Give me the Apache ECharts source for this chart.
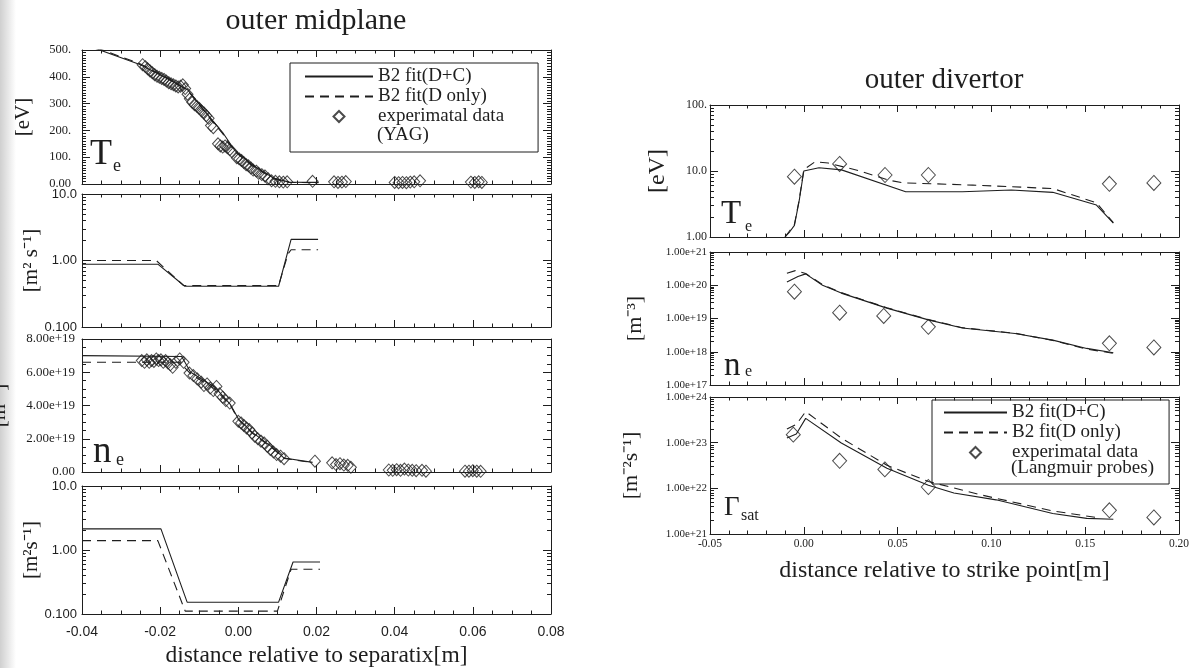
<!DOCTYPE html>
<html>
<head>
<meta charset="utf-8">
<title>outer midplane / outer divertor profiles</title>
<script src="https://cdn.jsdelivr.net/npm/echarts@6/dist/echarts.min.js"></script>
<style>
  html, body { margin: 0; padding: 0; background: #ffffff; }
  #chart { width: 1192px; height: 668px; }
</style>
</head>
<body>
<div id="chart"></div>
<script>
// ------------------------------------------------------------------
// Data: outer midplane profiles (x = distance relative to separatrix [m])
// ------------------------------------------------------------------
const midTeFitDC = [[-0.04, 524], [-0.0252, 446], [-0.018, 392], [-0.013, 352], [-0.008, 262], [-0.004, 192], [-0.001, 127], [0.0035, 72], [0.009, 22], [0.013, 7], [0.0205, 6]];
const midTeFitD  = [[-0.04, 528], [-0.0252, 449], [-0.018, 394], [-0.013, 350], [-0.008, 258], [-0.004, 188], [-0.001, 122], [0.0035, 68], [0.009, 19], [0.013, 6], [0.0205, 5]];
const midTeYAG = [
  [-0.0245, 445], [-0.0238, 438], [-0.0232, 430], [-0.0226, 422], [-0.0220, 415], [-0.0214, 408], [-0.0208, 402],
  [-0.0202, 398], [-0.0196, 394], [-0.0190, 390], [-0.0184, 384], [-0.0178, 378], [-0.0172, 374], [-0.0166, 370],
  [-0.0160, 366], [-0.0154, 362], [-0.0148, 365], [-0.0142, 370], [-0.0136, 356], [-0.0130, 335], [-0.0124, 318],
  [-0.0118, 305], [-0.0112, 296], [-0.0106, 290], [-0.0100, 282], [-0.0094, 272], [-0.0088, 265], [-0.0082, 255],
  [-0.0076, 245], [-0.0070, 218], [-0.0064, 210], [-0.0052, 150], [-0.0046, 142], [-0.0040, 138], [-0.0034, 142],
  [-0.0028, 135], [-0.0022, 128], [-0.0016, 120], [-0.0004, 98], [0.0002, 94], [0.0008, 88], [0.0014, 80],
  [0.0020, 72], [0.0026, 68], [0.0032, 60], [0.0038, 52], [0.0046, 48], [0.0052, 40], [0.0060, 35], [0.0068, 30],
  [0.0076, 20], [0.0085, 12], [0.0095, 10], [0.0105, 8], [0.0115, 7], [0.0125, 8],
  [0.0190, 10], [0.0245, 8], [0.0255, 6], [0.0265, 7], [0.0275, 9],
  [0.0400, 6], [0.0410, 5], [0.0420, 6], [0.0430, 5], [0.0440, 7], [0.0450, 8], [0.0465, 12],
  [0.0595, 7], [0.0605, 6], [0.0615, 8], [0.0623, 6]
];

const midChiFitDC = [[-0.04, 0.88], [-0.0206, 0.88], [-0.0137, 0.41], [0.0103, 0.41], [0.0135, 2.08], [0.0204, 2.08]];
const midChiFitD  = [[-0.04, 1.0], [-0.021, 1.0], [-0.0140, 0.42], [0.0103, 0.42], [0.0127, 1.25], [0.0135, 1.45], [0.0204, 1.45]];

const midNeFitDC = [[-0.04, 7.0e19], [-0.0145, 6.95e19], [-0.0122, 6.0e19], [-0.006, 5.1e19], [-0.002, 4.05e19], [0.0, 3.2e19], [0.0035, 2.4e19], [0.0089, 1.45e19], [0.0117, 0.84e19], [0.019, 0.58e19]];
const midNeFitD  = [[-0.04, 6.6e19], [-0.015, 6.6e19], [-0.0122, 5.9e19], [-0.006, 5.0e19], [-0.002, 4.0e19], [0.0, 3.15e19], [0.0035, 2.35e19], [0.0089, 1.4e19], [0.0117, 0.82e19], [0.019, 0.56e19]];
const midNeYAG = [
  [-0.0247, 6.7e19], [-0.0240, 6.6e19], [-0.0234, 6.75e19], [-0.0228, 6.6e19], [-0.0222, 6.7e19], [-0.0216, 6.65e19],
  [-0.0210, 6.8e19], [-0.0204, 6.7e19], [-0.0198, 6.75e19], [-0.0192, 6.6e19], [-0.0186, 6.7e19], [-0.0180, 6.55e19],
  [-0.0174, 6.45e19], [-0.0168, 6.3e19], [-0.0160, 6.6e19], [-0.0150, 6.8e19], [-0.0140, 6.6e19], [-0.0125, 5.95e19],
  [-0.0115, 5.8e19], [-0.0105, 5.6e19], [-0.0095, 5.4e19], [-0.0088, 5.2e19], [-0.0080, 5.3e19], [-0.0072, 5.05e19],
  [-0.0064, 4.9e19], [-0.0056, 5.15e19], [-0.0048, 4.7e19], [-0.0040, 4.5e19], [-0.0032, 4.3e19], [-0.0022, 4.15e19],
  [0.0000, 3.05e19], [0.0007, 2.95e19], [0.0014, 2.8e19], [0.0021, 2.65e19], [0.0028, 2.55e19], [0.0035, 2.35e19],
  [0.0042, 2.15e19], [0.0050, 2.0e19], [0.0058, 1.85e19], [0.0066, 1.75e19], [0.0074, 1.55e19], [0.0082, 1.35e19],
  [0.0090, 1.2e19], [0.0098, 1.05e19], [0.0108, 0.95e19], [0.0117, 0.8e19],
  [0.0196, 0.65e19], [0.0240, 0.55e19], [0.0250, 0.45e19], [0.0260, 0.5e19], [0.0270, 0.42e19], [0.0280, 0.4e19], [0.0288, 0.28e19],
  [0.0385, 0.12e19], [0.0395, 0.1e19], [0.0405, 0.14e19], [0.0415, 0.1e19], [0.0425, 0.18e19], [0.0435, 0.12e19],
  [0.0445, 0.1e19], [0.0455, 0.08e19], [0.0470, 0.1e19], [0.0480, 0.05e19],
  [0.0580, 0.05e19], [0.0590, 0.05e19], [0.0600, 0.08e19], [0.0610, 0.05e19], [0.0620, 0.04e19]
];

const midDFitDC = [[-0.04, 2.14], [-0.0198, 2.14], [-0.0131, 0.153], [0.0103, 0.153], [0.0140, 0.65], [0.0209, 0.65]];
const midDFitD  = [[-0.04, 1.40], [-0.0206, 1.40], [-0.0136, 0.111], [0.0100, 0.111], [0.0135, 0.50], [0.0209, 0.50]];

// ------------------------------------------------------------------
// Data: outer divertor profiles (x = distance relative to strike point [m])
// ------------------------------------------------------------------
const divTeFitDC = [[-0.010, 1.0], [-0.0075, 1.2], [-0.005, 1.5], [-0.0025, 3.5], [0.0, 10.0], [0.0081, 11.2], [0.0201, 10.4], [0.0543, 4.85], [0.0845, 4.85], [0.1106, 5.15], [0.1327, 4.75], [0.156, 3.05], [0.165, 1.62]];
const divTeFitD  = [[-0.010, 1.0], [-0.005, 1.55], [-0.0025, 3.6], [0.0, 10.5], [0.006, 13.8], [0.013, 13.2], [0.030, 10.0], [0.045, 7.3], [0.053, 6.6], [0.070, 6.4], [0.090, 6.1], [0.110, 5.8], [0.133, 5.4], [0.156, 3.3], [0.165, 1.65]];
const divTeProbe = [[-0.005, 8.2], [0.0191, 12.8], [0.0433, 8.7], [0.0664, 8.7], [0.1629, 6.4], [0.1866, 6.6]];

const divNeFitDC = [[-0.009, 1.26e20], [-0.0031, 1.82e20], [0.001, 2.2e20], [0.010, 1.0e20], [0.020, 5.8e19], [0.0443, 2.05e19], [0.0664, 9.1e18], [0.0845, 5.2e18], [0.1126, 3.55e18], [0.1327, 2.24e18], [0.1508, 1.26e18], [0.165, 9.3e17]];
const divNeFitD  = [[-0.009, 2.3e20], [-0.0045, 2.75e20], [0.001, 2.25e20], [0.010, 1.05e20], [0.020, 6.0e19], [0.0443, 2.1e19], [0.0664, 9.3e18], [0.0845, 5.3e18], [0.1126, 3.6e18], [0.1327, 2.2e18], [0.1508, 1.2e18], [0.165, 9.0e17]];
const divNeProbe = [[-0.005, 6.4e19], [0.0191, 1.5e19], [0.0426, 1.19e19], [0.0664, 5.6e18], [0.1629, 1.8e18], [0.1866, 1.35e18]];

const divGammaFitDC = [[-0.009, 1.26e23], [-0.004, 1.55e23], [0.001, 3.4e23], [0.020, 9.8e22], [0.0443, 2.75e22], [0.0664, 1.17e22], [0.080, 7.9e21], [0.1025, 5.6e21], [0.1327, 2.8e21], [0.1508, 2.2e21], [0.165, 2.1e21]];
const divGammaFitD  = [[-0.009, 2.0e23], [-0.004, 2.5e23], [0.001, 4.8e23], [0.020, 1.26e23], [0.0443, 3.2e22], [0.0664, 1.41e22], [0.095, 7.1e21], [0.1327, 3.2e21], [0.156, 2.3e21]];
const divGammaProbe = [[-0.0056, 1.5e23], [0.0191, 4.0e22], [0.0432, 2.6e22], [0.0664, 1.07e22], [0.1629, 3.3e21], [0.1866, 2.3e21]];

// axis ranges and legend names
const midXRange = { min: -0.04, max: 0.08, step: 0.02 };
const divXRange = { min: -0.05, max: 0.20, step: 0.05 };
const seriesNames = ['B2 fit(D+C)', 'B2 fit(D only)', 'experimatal data'];
const legendExtra = ['(YAG)', '(Langmuir probes)'];

// ------------------------------------------------------------------
// Styling helpers
// ------------------------------------------------------------------
const SERIF = '"Liberation Serif", "Times New Roman", serif';
const SANS = '"Liberation Sans", Arial, sans-serif';
const INK = '#1e1e1e';
const DIAMOND_PATH = 'path://M5,0L10,5L5,10L0,5Z';

// IDL-like label with three significant digits: 0.100, 1.00, 10.0, 100.
function fmtSig3(v) {
  if (Math.abs(v) < 1e-12) return '0.00';
  const e = Math.floor(Math.log10(Math.abs(v)) + 1e-9);
  if (e >= 2) return Math.round(v) + '.';
  return v.toFixed(Math.max(0, 2 - e));
}
// IDL-like exponential label: 2.00e+19
function fmtSci(v) {
  if (Math.abs(v) < 1e-30) return '0.00';
  const e = Math.floor(Math.log10(Math.abs(v)) + 1e-9);
  const m = v / Math.pow(10, e);
  return m.toFixed(2) + 'e+' + (e < 10 ? '0' : '') + e;
}
// minor tick positions 2..9 x 10^k inside a log range
function logMinor(lo, hi) {
  const out = [];
  for (let k = Math.floor(Math.log10(lo)); k < Math.ceil(Math.log10(hi)); k++) {
    for (let m = 2; m <= 9; m++) {
      const v = m * Math.pow(10, k);
      if (v > lo && v < hi) out.push(v);
    }
  }
  return out;
}

const grids = [], xAxes = [], yAxes = [], series = [];

function axisLine(show) { return { show: show !== false, onZero: false, lineStyle: { color: INK, width: 1 } }; }

// one framed panel: bottom/top x axes, left/right y axes (ticks drawn inward on all four sides)
function addPanel(p) {
  const gi = grids.length;
  grids.push({ left: p.left, top: p.top, width: p.width, height: p.height, show: false, outerBoundsMode: 'none' });

  const xr = p.x;
  const xBase = {
    gridIndex: gi, type: 'value', min: xr.min, max: xr.max, interval: xr.step,
    axisLine: axisLine(),
    axisTick: { show: true, inside: true, length: 7, lineStyle: { color: INK } },
    minorTick: { show: true, splitNumber: xr.minor, length: 3.5, lineStyle: { color: INK } },
    splitLine: { show: false }, minorSplitLine: { show: false },
    axisLabel: { show: false }
  };
  const xi = xAxes.length;
  const xBottom = Object.assign({}, xBase, { position: 'bottom' });
  if (p.xLabels) {
    xBottom.axisLabel = Object.assign({ show: true, showMinLabel: true, showMaxLabel: true, color: INK,
      formatter: v => v.toFixed(2) }, p.xLabels);
    xBottom.name = p.xName;
    xBottom.nameLocation = 'middle';
    xBottom.nameGap = p.xNameGap;
    xBottom.nameMoveOverlap = false;
    xBottom.nameTextStyle = { fontFamily: SERIF, fontSize: p.xNameSize, color: INK };
  }
  xAxes.push(xBottom);
  xAxes.push(Object.assign({}, xBase, { position: 'top' }));

  const yr = p.y;
  const yBase = {
    gridIndex: gi, type: yr.type, min: yr.min, max: yr.max,
    axisLine: axisLine(),
    axisTick: { show: true, inside: true, length: 8, lineStyle: { color: INK } },
    splitLine: { show: false }, minorSplitLine: { show: false },
    axisLabel: { show: false }
  };
  if (yr.type === 'log') yBase.logBase = 10;
  if (yr.interval) yBase.interval = yr.interval;
  if (yr.type === 'value') yBase.minorTick = { show: true, splitNumber: yr.minor, length: 4, lineStyle: { color: INK } };

  const yi = yAxes.length;
  const yLeft = Object.assign({}, yBase, {
    position: 'left',
    axisLabel: Object.assign({ show: true, showMinLabel: true, showMaxLabel: true, color: INK, formatter: yr.fmt }, p.yLabels),
    name: p.yName, nameLocation: 'middle', nameGap: p.yNameGap, nameRotate: 90, nameMoveOverlap: false,
    nameTextStyle: { fontFamily: SERIF, fontSize: p.yNameSize || 21, color: INK }
  });
  yAxes.push(yLeft);
  yAxes.push(Object.assign({}, yBase, { position: 'right' }));
  if (yr.type === 'log') {
    // short minor ticks at 2..9 of every decade, on both frame sides
    const minorVals = logMinor(yr.min, yr.max);
    ['left', 'right'].forEach(pos => {
      yAxes.push(Object.assign({}, yBase, {
        position: pos, axisLine: axisLine(false),
        axisTick: { show: true, inside: true, length: 4, customValues: minorVals, lineStyle: { color: INK } },
        axisLabel: { show: false }
      }));
    });
  }
  return { xi, yi };
}

function addFit(ax, name, data, dashed) {
  series.push({
    type: 'line', name, data, xAxisIndex: ax.xi, yAxisIndex: ax.yi,
    symbol: 'none', showSymbol: false, clip: true, silent: true,
    itemStyle: { color: INK },
    lineStyle: { color: INK, width: 1.1, type: dashed ? [9, 6] : 'solid' },
    emphasis: { disabled: true }
  });
}
function addProbe(ax, name, data, size) {
  series.push({
    type: 'scatter', name, data, xAxisIndex: ax.xi, yAxisIndex: ax.yi,
    symbol: 'diamond', symbolSize: size, clip: true, silent: true,
    itemStyle: { color: 'rgba(255,255,255,0)', borderColor: INK, borderWidth: 1 },
    emphasis: { disabled: true }
  });
}

// ------------------------------------------------------------------
// Left column: outer midplane
// ------------------------------------------------------------------
const MID = { left: 82, width: 469 };
const midX = Object.assign({ minor: 4 }, midXRange);

const mTe = addPanel({ left: MID.left, width: MID.width, top: 50, height: 134, x: midX,
  y: { type: 'value', min: 0, max: 500, interval: 100, minor: 10, fmt: fmtSig3 },
  yLabels: { fontFamily: SERIF, fontSize: 12.5, margin: 11 }, yName: '[eV]', yNameGap: 48 });
addFit(mTe, seriesNames[0], midTeFitDC, false);
addFit(mTe, seriesNames[1], midTeFitD, true);
addProbe(mTe, seriesNames[2], midTeYAG, [11, 12]);

const mChi = addPanel({ left: MID.left, width: MID.width, top: 194, height: 133, x: midX,
  y: { type: 'log', min: 0.1, max: 10, fmt: fmtSig3 },
  yLabels: { fontFamily: SANS, fontSize: 13, margin: 5 }, yName: '[m\u00B2 s\u207B\u00B9]', yNameGap: 40 });
addFit(mChi, seriesNames[0], midChiFitDC, false);
addFit(mChi, seriesNames[1], midChiFitD, true);

const mNe = addPanel({ left: MID.left, width: MID.width, top: 339, height: 133, x: midX,
  y: { type: 'value', min: 0, max: 8e19, interval: 2e19, minor: 4, fmt: fmtSci },
  yLabels: { fontFamily: SERIF, fontSize: 13, margin: 7 }, yName: '[m\u207B\u00B3]', yNameGap: 72 });
addFit(mNe, seriesNames[0], midNeFitDC, false);
addFit(mNe, seriesNames[1], midNeFitD, true);
addProbe(mNe, seriesNames[2], midNeYAG, [11, 12]);

const mD = addPanel({ left: MID.left, width: MID.width, top: 486, height: 128, x: midX,
  y: { type: 'log', min: 0.1, max: 10, fmt: fmtSig3 },
  yLabels: { fontFamily: SANS, fontSize: 13, margin: 5 }, yName: '[m\u00B2s\u207B\u00B9]', yNameGap: 40,
  xLabels: { fontFamily: SANS, fontSize: 14, margin: 11 },
  xName: 'distance relative to separatix[m]', xNameGap: 30, xNameSize: 23.5 });
addFit(mD, seriesNames[0], midDFitDC, false);
addFit(mD, seriesNames[1], midDFitD, true);

// ------------------------------------------------------------------
// Right column: outer divertor
// ------------------------------------------------------------------
const DIV = { left: 710, width: 469 };
const divX = Object.assign({ minor: 5 }, divXRange);

const dTe = addPanel({ left: DIV.left, width: DIV.width, top: 105, height: 132, x: divX,
  y: { type: 'log', min: 1, max: 100, fmt: fmtSig3 },
  yLabels: { fontFamily: SERIF, fontSize: 12, margin: 3 }, yName: '[eV]', yNameGap: 40, yNameSize: 24 });
addFit(dTe, seriesNames[0], divTeFitDC, false);
addFit(dTe, seriesNames[1], divTeFitD, true);
addProbe(dTe, seriesNames[2], divTeProbe, [14, 15]);

const dNe = addPanel({ left: DIV.left, width: DIV.width, top: 252, height: 133, x: divX,
  y: { type: 'log', min: 1e17, max: 1e21, fmt: fmtSci },
  yLabels: { fontFamily: SERIF, fontSize: 11, margin: 3 }, yName: '[m\u207B\u00B3]', yNameGap: 64, yNameSize: 22 });
addFit(dNe, seriesNames[0], divNeFitDC, false);
addFit(dNe, seriesNames[1], divNeFitD, true);
addProbe(dNe, seriesNames[2], divNeProbe, [14, 15]);

const dGam = addPanel({ left: DIV.left, width: DIV.width, top: 397, height: 137, x: divX,
  y: { type: 'log', min: 1e21, max: 1e24, fmt: fmtSci },
  yLabels: { fontFamily: SERIF, fontSize: 11, margin: 3 }, yName: '[m\u207B\u00B2s\u207B\u00B9]', yNameGap: 68, yNameSize: 22,
  xLabels: { fontFamily: SERIF, fontSize: 11.5, margin: 4 },
  xName: 'distance relative to strike point[m]', xNameGap: 25, xNameSize: 24 });
addFit(dGam, seriesNames[0], divGammaFitDC, false);
addFit(dGam, seriesNames[1], divGammaFitD, true);
addProbe(dGam, seriesNames[2], divGammaProbe, [14, 15]);

// ------------------------------------------------------------------
// Legends (one per column) and free text
// ------------------------------------------------------------------
const legendText = { fontFamily: SERIF, fontSize: 19, color: INK };
const hiddenSymbol = { opacity: 0, color: 'rgba(0,0,0,0)', borderWidth: 0 };
const legendItems = [
  { name: seriesNames[0], itemStyle: hiddenSymbol },
  { name: seriesNames[1], itemStyle: hiddenSymbol },
  { name: seriesNames[2], icon: DIAMOND_PATH }
];
const legends = [
  { left: 290, top: 63, padding: [4, 34, 26, 14], itemWidth: 68 },
  { left: 932, top: 400, padding: [3, 31, 22, 11], itemWidth: 63 }
].map(l => ({
  show: true, selectedMode: false, orient: 'vertical', left: l.left, top: l.top, padding: l.padding,
  itemGap: 1, itemWidth: l.itemWidth, itemHeight: 11, symbolKeepAspect: true,
  borderColor: INK, borderWidth: 1, backgroundColor: 'rgba(255,255,255,0)',
  textStyle: legendText, inactiveColor: INK,
  data: legendItems
}));

function txt(x, y, text, size, align) {
  return {
    type: 'text', x, y, silent: true,
    style: { text, fill: INK, font: size + 'px ' + SERIF, fontSize: size, fontFamily: SERIF,
      align: align || 'left', verticalAlign: 'middle', textAlign: align || 'left', textVerticalAlign: 'middle' }
  };
}

const graphics = [
  // faint shadow of the page gutter along the left edge
  { type: 'rect', silent: true, z: -10, shape: { x: 0, y: 0, width: 16, height: 668 },
    style: { fill: { type: 'linear', x: 0, y: 0, x2: 1, y2: 0,
      colorStops: [{ offset: 0, color: 'rgba(150,150,150,0.45)' }, { offset: 1, color: 'rgba(150,150,150,0)' }] } } },
  txt(316, 21, 'outer midplane', 30, 'center'),
  txt(944, 80, 'outer divertor', 29, 'center'),
  txt(377, 135, legendExtra[0], 19),
  txt(1011, 468, legendExtra[1], 19),
  // panel symbols
  txt(90, 155, 'T', 36), txt(113, 166, 'e', 18),
  txt(93, 452, 'n', 37), txt(116, 460, 'e', 18),
  txt(721, 214, 'T', 33), txt(745, 227, 'e', 16),
  txt(724, 366, 'n', 33), txt(745, 372, 'e', 16),
  txt(724, 508, '\u0393', 27), txt(741, 516, 'sat', 16)
];

const chart = echarts.init(document.getElementById('chart'), null, { renderer: 'canvas' });
chart.setOption({
  animation: false,
  backgroundColor: '#ffffff',
  grid: grids,
  xAxis: xAxes,
  yAxis: yAxes,
  legend: legends,
  series: series,
  graphic: graphics
});
</script>
</body>
</html>
